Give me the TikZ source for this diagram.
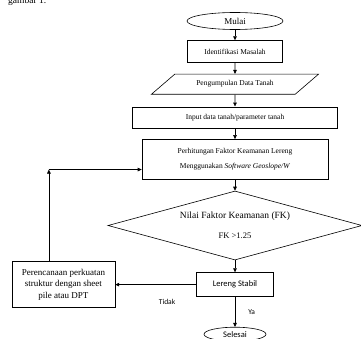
\documentclass[tikz,border=0pt]{standalone}
\usepackage{fontspec}
\setmainfont{Liberation Serif}
\newfontfamily\calibri{Carlito}
\usetikzlibrary{
    positioning,
    arrows.meta,
    shapes.geometric,
    calc
}
\tikzset{
    box/.style={
        rectangle, draw, line width=0.6pt,
        align=center, inner sep=2pt,
        font=\fontsize{7.5}{9}\selectfont
    },
    terminal/.style={
        ellipse, draw, line width=0.6pt, inner sep=1pt
    },
    datain/.style={
        trapezium, trapezium left angle=30, trapezium right angle=150,
        trapezium stretches=true,
        draw, line width=0.6pt, inner sep=1pt,
        font=\fontsize{7.5}{9}\selectfont
    },
    decision/.style={
        diamond, aspect=3.68, draw, line width=0.6pt, align=center, inner sep=0pt,
        font=\fontsize{9.5}{11}\selectfont
    },
    arrow/.style={
        -{Triangle[length=4pt, width=3.6pt]}, line width=0.6pt, draw=black
    },
    lbl/.style={
        font=\calibri\fontsize{7.5}{9}\selectfont, inner sep=1pt
    }
}
\begin{document}
\begin{tikzpicture}[x=1pt, y=-1pt]
    \useasboundingbox (0,0) rectangle (361,339);

    % --- TEXT ABOVE ---
    \node[anchor=base west, inner sep=0pt, font=\fontsize{9.5}{11}\selectfont] (gambar) at (8,4) {gambar 1.};

    % --- MAIN FLOW ---
    \node[terminal, minimum width=96pt, minimum height=17pt, font=\fontsize{9}{11}\selectfont] (mulai) at (235,21) {Mulai};
    \node[box, minimum width=95pt, minimum height=22pt, below=10.5pt of mulai] (ident) {Identifikasi Masalah};
    \node[datain, minimum width=167pt, minimum height=20pt, below=11pt of ident] (kumpul) {Pengumpulan Data Tanah};
    \node[box, minimum width=205pt, minimum height=21pt, below=12pt of kumpul] (input) {Input data tanah/parameter tanah};
    \node[box, minimum width=186pt, minimum height=40pt, below=11pt of input] (hitung)
        {Perhitungan Faktor Keamanan Lereng\\[6pt] Menggunakan \textit{Software Geoslope/W}};
    \node[decision, minimum width=254pt, minimum height=69pt, below=11pt of hitung] (fk)
        {Nilai Faktor Keamanan (FK)\\[9pt] \fontsize{8.5}{10}\selectfont FK >1.25};
    \node[box, minimum width=77pt, minimum height=24pt, font=\calibri\fontsize{8.5}{10}\selectfont, below=12pt of fk] (stabil) {Lereng Stabil};
    \node[terminal, minimum width=62pt, minimum height=14pt, font=\calibri\fontsize{8.5}{10}\selectfont, below=30pt of stabil] (selesai) {Selesai};

    % --- REINFORCEMENT ---
    \node[box, minimum width=103pt, minimum height=46pt, font=\fontsize{9}{11.5}\selectfont, left=81pt of stabil] (rencana)
        {Perencanaan perkuatan\\ struktur dengan sheet\\ pile atau DPT};

    % --- ARROWS ---
    \draw[arrow] (mulai) -- (ident);
    \draw[arrow] (ident) -- (kumpul);
    \draw[arrow] (kumpul) -- (input);
    \draw[arrow] (input) -- (hitung);
    \draw[arrow] (hitung) -- (fk);
    \draw[arrow] (fk) -- (stabil);
    \draw[arrow] (stabil) -- node[lbl, right=12pt] {Ya} (selesai);
    \draw[arrow] (stabil) -- node[lbl, pos=0.36, below=13pt] {Tidak} (rencana);

    % feedback to calculation
    \coordinate (up) at ($(rencana.north west)!0.36!(rencana.north east)$);
    \coordinate (entry) at ($(hitung.west)!0.5!(hitung.south west)$);
    \coordinate (fb) at (up |- entry);
    \draw[arrow] (up) -- (fb);
    \draw[arrow] (fb) -- (entry);
\end{tikzpicture}
\end{document}
